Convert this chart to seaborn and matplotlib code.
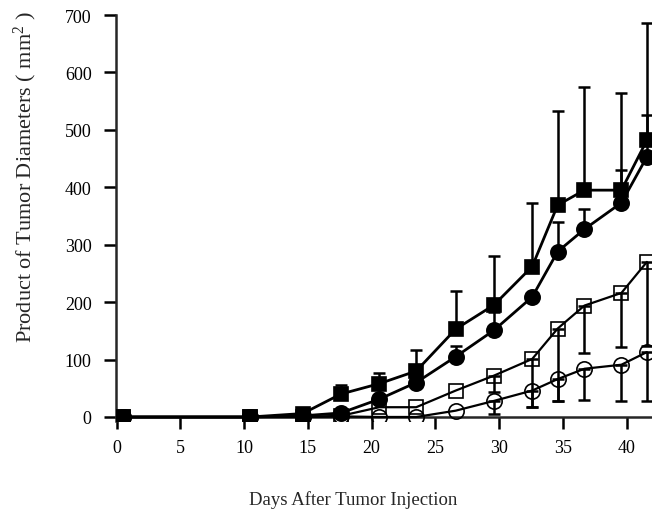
import numpy as np
import pandas as pd
import matplotlib
matplotlib.use("Agg")
import matplotlib.pyplot as plt
import seaborn as sns

# ---- data ----
days = [0.5, 10.5, 14.6, 17.6, 20.6, 23.5, 26.6, 29.6, 32.6, 34.6, 36.7, 39.6, 41.6]

filled_square = [0, 0, 6, 40, 58, 80, 153, 195, 262, 369, 395, 395, 482]
filled_square_up = [0, 0, 0, 15, 19, 37, 67, 86, 110, 163, 179, 169, 204]

filled_circle = [0, 0, 2, 7, 31, 60, 105, 151, 209, 288, 327, 373, 453]
filled_circle_up = [0, 0, 0, 0, 0, 0, 19, 32, 0, 51, 35, 57, 72]

open_square = [0, 0, 0, 2, 17, 17, 46, 72, 101, 154, 194, 216, 270]
open_square_down = [0, 0, 0, 0, 0, 0, 0, 29, 84, 127, 83, 94, 146]

open_circle = [0, 0, 0, 1, 0, 0, 11, 28, 46, 66, 84, 91, 113]
open_circle_down = [0, 0, 0, 0, 0, 0, 0, 23, 29, 39, 54, 64, 85]

x_ticks = [0, 5, 10, 15, 20, 25, 30, 35, 40]
y_ticks = [0, 100, 200, 300, 400, 500, 600, 700]

sns.set_style("ticks")
plt.rcParams["font.family"] = ["Liberation Serif", "DejaVu Serif"]
plt.rcParams["mathtext.fontset"] = "custom"
plt.rcParams["mathtext.rm"] = "Liberation Serif"
plt.rcParams["mathtext.it"] = "Liberation Serif:italic"

fig = plt.figure(figsize=(6.52, 5.10), dpi=100)
ax = fig.add_axes([116 / 652, (510 - 422) / 510, 1 - 116 / 652, (422 - 16) / 510])

series = [
    (filled_square, filled_square_up, "up", "s", "black"),
    (filled_circle, filled_circle_up, "up", "o", "black"),
    (open_square, open_square_down, "down", "s", "none"),
    (open_circle, open_circle_down, "down", "o", "none"),
]

for vals, err, direction, mk, fc in series:
    d = np.array(days)
    v = np.array(vals, dtype=float)
    e = np.array(err, dtype=float)
    m = e > 0
    if m.any():
        if direction == "up":
            yerr = [np.zeros(m.sum()), e[m]]
        else:
            yerr = [e[m], np.zeros(m.sum())]
        ax.errorbar(d[m], v[m], yerr=yerr, fmt="none", ecolor="black",
                    elinewidth=1.8, capsize=4.5, capthick=1.8, zorder=2)

for vals, err, direction, mk, fc in series:
    df = pd.DataFrame({"day": days, "val": vals})
    lw = 2.0 if fc == "black" else 1.6
    sns.lineplot(data=df, x="day", y="val", ax=ax, color="black",
                 marker=mk, markersize=10.5 if mk == "s" else 11,
                 markerfacecolor=fc, markeredgecolor="black",
                 markeredgewidth=1.2, linewidth=lw, errorbar=None,
                 sort=False, zorder=3, clip_on=True)

ax.set_xlim(-0.05, 42.0)
ax.set_ylim(-7, 700)
ax.set_xticks(x_ticks)
ax.set_yticks(y_ticks)
ax.spines["bottom"].set_position(("data", 0))
ax.spines["right"].set_visible(False)
ax.spines["top"].set_visible(False)
for s in ("left", "bottom"):
    ax.spines[s].set_linewidth(1.8)
ax.tick_params(axis="both", direction="out", length=8.5, width=1.8,
               labelsize=13, colors="black")
ax.tick_params(axis="x", pad=7)
ax.tick_params(axis="y", pad=9)

ax.set_xlabel("")
ax.set_ylabel("")
fig.text(353 / 652, 1 - 500 / 510, "Days After Tumor Injection",
         ha="center", va="center", fontsize=13.5)
fig.text(25 / 652, 1 - 177 / 510, "Product of Tumor Diameters ( mm$^2$ )",
         ha="center", va="center", rotation=90, fontsize=16)

fig.savefig("out.png", dpi=100)
